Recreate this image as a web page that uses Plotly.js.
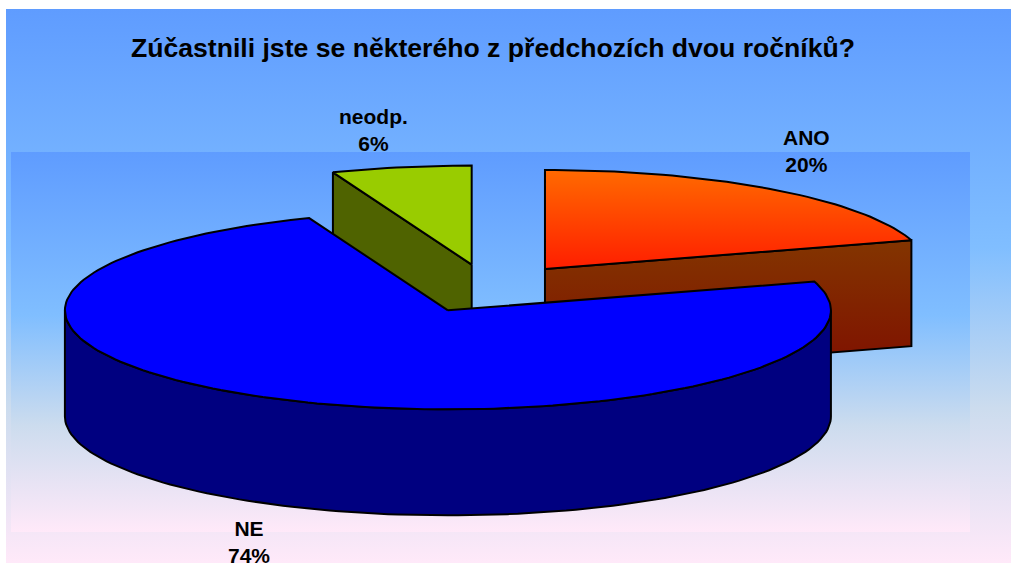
<!DOCTYPE html>
<html>
<head>
<meta charset="utf-8">
<script src="https://cdn.plot.ly/plotly-3.0.1.min.js"></script>
<style>html,body{margin:0;padding:0;background:#fff;overflow:hidden}#chart{width:1011px;height:563px}</style>
</head>
<body>
<div id="chart"></div>
<script>
const chartTitle = "Zúčastnili jste se některého z předchozích dvou ročníků?";
const categories = ["ANO", "NE", "neodp."];
const values = [20.3, 73.8, 5.9];

// the y axis runs downward, so colour stops are listed from the bottom of a shape to its top
const topFaceFills = [
  {type: "vertical", colorscale: [[0, "#FF1E00"], [1, "#FF6A00"]]},
  "#0000FF",
  "#99CC00"
];
const sideFills = [
  {type: "vertical", colorscale: [[0, "#7F0F00"], [1, "#833500"]]},
  "#000080",
  "#4F6300"
];
const labelPositions = [[806, 151], [249, 542], [373, 130]];

// pie geometry in pixels (axes are mapped 1:1 to the window)
const CX = 489, CY = 288.5, RX = 383, RY = 99, DEPTH = 106, EXPLODE = 94, START = 90;
const rad = d => d * Math.PI / 180;

const total = values.reduce((a, b) => a + b, 0);
let cursor = START;
const slices = values.map(v => {
  const a0 = cursor, a1 = cursor - v / total * 360;
  cursor = a1;
  const mid = rad((a0 + a1) / 2);
  return {a0, a1, cx: CX + EXPLODE * Math.cos(mid), cy: CY - EXPLODE * Math.sin(mid) * RY / RX};
});

function arc(s, from, to) {
  const n = Math.max(2, Math.ceil(Math.abs(from - to) / 1.5));
  const pts = [];
  for (let i = 0; i <= n; i++) {
    const t = rad(from + (to - from) * i / n);
    pts.push([s.cx + RX * Math.cos(t), s.cy - RY * Math.sin(t)]);
  }
  return pts;
}
function poly(pts, fill, lw) {
  const closed = pts.concat([pts[0]]);
  const tr = {
    type: "scatter", mode: "lines", x: closed.map(p => p[0]), y: closed.map(p => p[1]),
    fill: "toself", hoverinfo: "skip",
    line: {color: lw ? "#000" : "rgba(0,0,0,0)", width: lw || 0, shape: "linear"}
  };
  if (typeof fill === "string") tr.fillcolor = fill; else tr.fillgradient = fill;
  return tr;
}
function topFace(i) {
  const s = slices[i];
  return poly([[s.cx, s.cy]].concat(arc(s, s.a0, s.a1)), topFaceFills[i], 2);
}
// cut face running from the centre to the rim at one angle, extruded downward
function cutFace(i, angle) {
  const s = slices[i];
  const p = arc(s, angle, angle - 1)[0];
  return poly([[s.cx, s.cy], p, [p[0], p[1] + DEPTH], [s.cx, s.cy + DEPTH]], sideFills[i], 2);
}
// outer wall: the part of the rim lying in the front half of the ellipse
function rimWall(i, from, to) {
  const s = slices[i];
  const upper = arc(s, from, to);
  const lower = upper.slice().reverse().map(p => [p[0], p[1] + DEPTH]);
  return poly(upper.concat(lower), sideFills[i], 2);
}

const backdropStops = [[0, "#FFE9F9"], [0.28, "#CCDCEE"], [0.57, "#80BEFF"], [1, "#5F9CFF"]];
const backdrop = (x0, y0, x1, y1) =>
  poly([[x0, y0], [x1, y0], [x1, y1], [x0, y1]], {type: "vertical", colorscale: backdropStops}, 0);

const traces = [
  backdrop(6, 9, 1011, 563),
  backdrop(11, 152, 970, 532),
  cutFace(2, slices[2].a0),
  topFace(2),
  cutFace(0, slices[0].a1),
  topFace(0),
  rimWall(1, 0, -180),
  topFace(1)
];

const layout = {
  width: 1011, height: 563,
  margin: {l: 0, r: 0, t: 0, b: 0},
  paper_bgcolor: "#fff", plot_bgcolor: "rgba(0,0,0,0)",
  showlegend: false, hovermode: false,
  title: {
    text: "<b>" + chartTitle + "</b>",
    x: 493 / 1011, xanchor: "center", y: 1 - 47.5 / 563, yanchor: "middle",
    font: {family: "Liberation Sans, Arial, sans-serif", size: 26.6, color: "#000"}
  },
  xaxis: {range: [0, 1011], visible: false, fixedrange: true},
  yaxis: {range: [563, 0], visible: false, fixedrange: true},
  annotations: categories.map((c, i) => ({
    x: labelPositions[i][0], y: labelPositions[i][1], xref: "x", yref: "y",
    text: "<b>" + c + "<br>" + Math.round(values[i] / total * 100) + "%</b>",
    showarrow: false, align: "center", xanchor: "center", yanchor: "middle",
    font: {family: "Liberation Sans, Arial, sans-serif", size: 21, color: "#000"}
  }))
};
Plotly.newPlot("chart", traces, layout, {displayModeBar: false, staticPlot: true});
</script>
</body>
</html>
